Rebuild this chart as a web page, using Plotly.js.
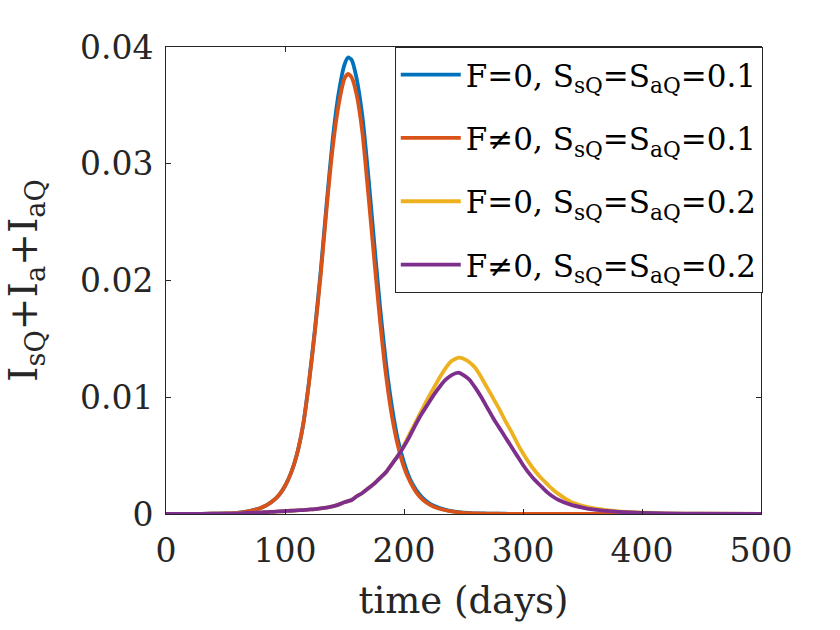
<!DOCTYPE html>
<html>
<head>
<meta charset="utf-8">
<script src="https://cdn.plot.ly/plotly-3.0.1.min.js"></script>
<style>html,body{margin:0;padding:0;background:#fff;}#chart{width:840px;height:630px;}</style>
</head>
<body>
<div id="chart"></div>
<script>
var timeDays = [0, 20, 40, 50, 60, 70, 75, 80, 85, 90, 95, 100, 105, 110, 115, 120, 125, 130, 135, 140, 145, 150, 153, 156, 160, 165, 170, 175, 180, 185, 190, 195, 200, 205, 210, 215, 220, 225, 230, 235, 240, 246, 250, 255, 260, 265, 270, 275, 280, 285, 290, 295, 300, 305, 310, 315, 320, 325, 330, 340, 350, 360, 370, 380, 400, 420, 450, 500];

var seriesNames = [
  "F=0, S<sub>sQ</sub>=S<sub>aQ</sub>=0.1",
  "F\u22600, S<sub>sQ</sub>=S<sub>aQ</sub>=0.1",
  "F=0, S<sub>sQ</sub>=S<sub>aQ</sub>=0.2",
  "F\u22600, S<sub>sQ</sub>=S<sub>aQ</sub>=0.2"
];

var blueF0S01 = [0, 0.00001, 0.00003, 0.00005, 0.0001, 0.00025, 0.00037, 0.00054, 0.00078, 0.00113, 0.00163, 0.0024, 0.0035, 0.0051, 0.0075, 0.0112, 0.0157, 0.0208, 0.0266, 0.0320, 0.0360, 0.0385, 0.0391, 0.0389, 0.0374, 0.0341, 0.0290, 0.0232, 0.0176, 0.0128, 0.0091, 0.0063, 0.0044, 0.0030, 0.0021, 0.00145, 0.0010, 0.0007, 0.0005, 0.00036, 0.00025, 0.00016, 0.00012, 0.00009, 0.00006, 0.00005, 0.00004, 0.00003, 0.00002, 0.00002, 0.00001, 0.00001, 0, 0, 0, 0, 0, 0, 0, 0, 0, 0, 0, 0, 0, 0, 0, 0];

var orangeFnS01 = [0, 0.00001, 0.00003, 0.00005, 0.0001, 0.00025, 0.00037, 0.00054, 0.00078, 0.00113, 0.00163, 0.0024, 0.0035, 0.0051, 0.0075, 0.0111, 0.0155, 0.0205, 0.0262, 0.0313, 0.0350, 0.0373, 0.0377, 0.0374, 0.0360, 0.0327, 0.0274, 0.0218, 0.0164, 0.0118, 0.0083, 0.0058, 0.0040, 0.0028, 0.0019, 0.0013, 0.0009, 0.00063, 0.00045, 0.00032, 0.00022, 0.00014, 0.0001, 0.00007, 0.00005, 0.00004, 0.00003, 0.00002, 0.00002, 0.00001, 0.00001, 0, 0, 0, 0, 0, 0, 0, 0, 0, 0, 0, 0, 0, 0, 0, 0, 0];

var yellowF0S02 = [0, 0.00001, 0.00002, 0.00003, 0.00005, 0.0001, 0.00012, 0.00014, 0.00016, 0.00019, 0.00022, 0.00025, 0.00028, 0.00031, 0.00034, 0.00038, 0.00042, 0.00048, 0.00055, 0.00065, 0.0008, 0.001, 0.0011, 0.0012, 0.0015, 0.0018, 0.0022, 0.0026, 0.0031, 0.0036, 0.0043, 0.0050, 0.0059, 0.0069, 0.0079, 0.0089, 0.0099, 0.0108, 0.0117, 0.0125, 0.0131, 0.0134, 0.0133, 0.0130, 0.0125, 0.0117, 0.0108, 0.0099, 0.0090, 0.0080, 0.0071, 0.0061, 0.0052, 0.0044, 0.0037, 0.0031, 0.0026, 0.0021, 0.0017, 0.00105, 0.0007, 0.00048, 0.00034, 0.00022, 0.00012, 0.00006, 0.00002, 0.00001];

var purpleFnS02 = [0, 0.00001, 0.00002, 0.00003, 0.00005, 0.0001, 0.00012, 0.00014, 0.00016, 0.00019, 0.00022, 0.00025, 0.00028, 0.00031, 0.00034, 0.00038, 0.00042, 0.00048, 0.00055, 0.00065, 0.0008, 0.001, 0.0011, 0.0012, 0.0015, 0.0018, 0.0022, 0.0026, 0.0031, 0.0036, 0.0043, 0.0050, 0.0058, 0.0067, 0.0077, 0.0086, 0.0094, 0.0102, 0.0109, 0.0115, 0.0119, 0.0121, 0.0119, 0.0115, 0.0108, 0.0100, 0.0091, 0.0082, 0.0074, 0.0066, 0.0058, 0.0050, 0.0042, 0.0035, 0.0029, 0.0024, 0.0019, 0.0015, 0.0012, 0.0008, 0.00055, 0.00037, 0.00026, 0.00018, 0.00009, 0.00005, 0.00002, 0.00001];

var xTickVals = [0, 100, 200, 300, 400, 500];
var yTickVals = [0, 0.01, 0.02, 0.03, 0.04];
var yTickText = ["0", "0.01", "0.02", "0.03", "0.04"];

var seriesValues = [blueF0S01, orangeFnS01, yellowF0S02, purpleFnS02];
var seriesColors = ["#0072BD", "#D95319", "#EDB120", "#7E2F8E"];

var FONT = "DejaVu Serif";
var AX = "#262626";

var traces = seriesValues.map(function (vals, i) {
  return {
    x: timeDays,
    y: vals,
    type: "scatter",
    mode: "lines",
    name: seriesNames[i],
    legendgroup: "g" + i,
    line: { color: seriesColors[i], width: 3.8, shape: "spline", smoothing: 0.6 },
    hoverinfo: "skip"
  };
});

var layout = {
  width: 840,
  height: 630,
  paper_bgcolor: "#fff",
  plot_bgcolor: "#fff",
  margin: { l: 166, r: 79, t: 47, b: 116, pad: 0 },
  showlegend: true,
  legend: {
    x: 1.003, xanchor: "right", xref: "paper",
    y: 1.0, yanchor: "top", yref: "paper",
    bgcolor: "#fff",
    bordercolor: AX,
    borderwidth: 1,
    font: { family: FONT, size: 31, color: "#000" },
    traceorder: "grouped",
    tracegroupgap: 20,
    itemwidth: 60
  },
  xaxis: {
    range: [0, 500],
    tickvals: xTickVals,
    ticks: "inside",
    ticklen: 5,
    tickwidth: 1,
    tickcolor: AX,
    showline: true,
    linecolor: AX,
    linewidth: 1,
    mirror: "ticks",
    showgrid: false,
    zeroline: false,
    ticklabelstandoff: 7,
    tickfont: { family: FONT, size: 33, color: AX },
    title: { text: "time (days)", font: { family: FONT, size: 37, color: AX }, standoff: 18 },
    automargin: false
  },
  yaxis: {
    range: [0, 0.04],
    tickvals: yTickVals,
    ticktext: yTickText,
    ticks: "inside",
    ticklen: 5,
    tickwidth: 1,
    tickcolor: AX,
    showline: true,
    linecolor: AX,
    linewidth: 1,
    mirror: "ticks",
    showgrid: false,
    zeroline: false,
    ticklabelstandoff: 5,
    tickfont: { family: FONT, size: 33, color: AX },
    title: { text: "I<sub>sQ</sub>+I<sub>a</sub>+I<sub>aQ</sub>", font: { family: FONT, size: 39, color: AX }, standoff: 30 },
    automargin: false
  }
};

Plotly.newPlot("chart", traces, layout, { staticPlot: true, displayModeBar: false });
</script>
</body>
</html>
